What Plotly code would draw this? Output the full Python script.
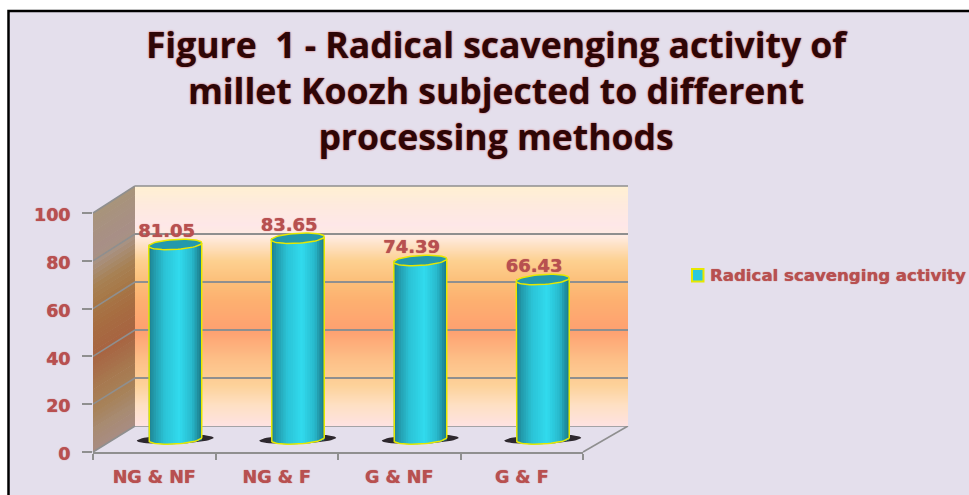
import numpy as np
import plotly.graph_objects as go

# ---- chart data ----
categories = ["NG & NF", "NG & F", "G & NF", "G & F"]
values = [81.05, 83.65, 74.39, 66.43]
series_name = "Radical scavenging activity"
y_ticks = [0, 20, 40, 60, 80, 100]
title_lines = ["Figure  1 - Radical scavenging activity of",
               "millet Koozh subjected to different",
               "processing methods"]

# ---- styles ----
W, H = 969, 495
BG = "#E4DFEC"
TXT = "#B85050"
GRID = "#8F8F8F"
YELLOW = "#E6E800"
FONT = "DejaVu Sans"
TITLE_FONT = "Open Sans"
wall_pos = [0.00, 0.087, 0.17, 0.275, 0.40, 0.525, 0.60, 0.69, 0.75, 0.79, 0.84, 0.92, 1.00]
wall_col = ["#FEE2E2", "#FEE0C4", "#FDD29A", "#FDC088", "#FEA070", "#FDB070", "#FCBE78",
            "#FDD090", "#FEE0C0", "#FFEBE0", "#FEE7E8", "#FEEADE", "#FFF0D2"]
cyl_pos = [0.0, 0.10, 0.30, 0.58, 0.82, 0.93, 1.0]
cyl_col = ["#1E7F8E", "#229AAB", "#2BC3D6", "#31DBEE", "#28B8CB", "#1F8F9F", "#1A7A88"]

def px(x): return x / W
def py(y): return 1 - y / H
def hex2rgb(c): return np.array([int(c[i:i + 2], 16) for i in (1, 3, 5)], float)
def ramp(t, pos, cols):
    arr = np.array([hex2rgb(c) for c in cols])
    return np.array([np.interp(t, pos, arr[:, k]) for k in range(3)])
def rgb(a): return "rgb(%d,%d,%d)" % tuple(int(round(v)) for v in a)

# geometry of the pseudo-3D box (pixels)
FX0, FX1, FY0, FY100 = 93, 583, 452, 213     # front plane
BX0, BX1, BY0, BY100 = 135, 628, 426, 186    # back wall
MX0, MX1, MY0, MY100 = 114, 604, 439, 199    # plane of the cylinders
MLOW = -12                                   # room below zero for the cylinder bases
def yf(v): return FY0 + (FY100 - FY0) * v / 100
def yb(v): return BY0 + (BY100 - BY0) * v / 100
def ym(v): return MY0 + (MY100 - MY0) * v / 100
def path(pts):
    return "M" + " L".join(f"{px(a):.5f},{py(b):.5f}" for a, b in pts) + " Z"
def edge(x0, y0, x1, y1, layer="below"):
    return dict(type="line", xref="paper", yref="paper", layer=layer,
                x0=px(x0), y0=py(y0), x1=px(x1), y1=py(y1),
                line=dict(color=GRID, width=1.5))

shapes = [dict(type="rect", xref="paper", yref="paper", layer="below",
               x0=px(8.5), x1=1.02, y0=py(11), y1=-0.02, fillcolor=BG,
               line=dict(color="#000000", width=2.5))]
# side wall bands
for v in np.arange(0, 100, 2.0):
    col = ramp((v + 1) / 100, wall_pos, wall_col) * np.array([0.66, 0.62, 0.58])
    top = min(v + 2.3, 100)
    shapes.append(dict(type="path", xref="paper", yref="paper", layer="below",
                       path=path([(FX0, yf(v)), (BX0, yb(v)), (BX0, yb(top)), (FX0, yf(top))]),
                       fillcolor=rgb(col), line=dict(width=0)))
# side-wall grid and box edges
for v in y_ticks:
    shapes.append(edge(FX0, yf(v), BX0, yb(v)))
shapes.append(edge(FX1, FY0, BX1, BY0))
shapes.append(edge(BX0, BY100, BX1, BY100, "above"))
shapes.append(edge(BX0, BY0, BX1, BY0))
shapes.append(dict(type="rect", xref="paper", yref="paper", layer="above",
                   x0=px(692), x1=px(703.5), y0=py(269), y1=py(281.5), fillcolor="#2BC9DD",
                   line=dict(color=YELLOW, width=2)))

fig = go.Figure()

# back wall gradient
levels = np.linspace(0, 100, 241)
fig.add_trace(go.Heatmap(x=[-2, 5], y=levels, z=[[l, l] for l in levels], zmin=0, zmax=100,
                         colorscale=[[p, c] for p, c in zip(wall_pos, wall_col)],
                         showscale=False, hoverinfo="skip", xaxis="x", yaxis="y"))
a = 26.5 / ((MX1 - MX0) / 4)           # half width in category units
b, k = 5 * 100 / 240, 1.6 * 100 / 240  # ellipse half height and tilt in value units
t = np.linspace(0, 2 * np.pi, 61)
fig.add_trace(go.Scatter(x=[0], y=[0], mode="none", showlegend=False, hoverinfo="skip",
                         xaxis="x2", yaxis="y2"))
for i, v in enumerate(values):        # floor shadows
    fig.add_trace(go.Scatter(x=i + a * 1.45 * np.cos(t), y=-0.1 + 1.9 * np.sin(t) + 0.6 * np.cos(t),
                             mode="lines", fill="toself", fillcolor="rgba(25,20,25,0.9)",
                             line=dict(width=0), showlegend=False, hoverinfo="skip",
                             xaxis="x3", yaxis="y3"))

# cylinders
n = 22
w = 2 * a / n
xs = list(range(len(values)))
for j in range(n):
    dx = -a + (j + 0.5) * w
    r = dx / a
    base = k * r - b * np.sqrt(max(1 - r * r, 0))
    wid = w * 2 if j < n - 1 else w
    fig.add_trace(go.Bar(x=xs, y=[v - base for v in values], base=base,
                         width=wid, offset=dx - w * 0.5,
                         marker=dict(color=rgb(ramp((j + 0.5) / n, cyl_pos, cyl_col)), line=dict(width=0)),
                         showlegend=False, hoverinfo="skip",
                         xaxis="x4", yaxis="y4"))
for i, v in enumerate(values):
    tb = np.linspace(0, np.pi, 31)
    # outline of body: left side, lower curve, right side
    fig.add_trace(go.Scatter(x=np.r_[i - a, i - a * np.cos(tb), i + a],
                             y=np.r_[v - k, -k * np.cos(tb) - b * np.sin(tb), v + k],
                             mode="lines", line=dict(color=YELLOW, width=1.5), showlegend=False,
                             hoverinfo="skip", xaxis="x4", yaxis="y4"))
    # top ellipse
    fig.add_trace(go.Scatter(x=i + a * np.cos(t), y=v + b * np.sin(t) + k * np.cos(t),
                             mode="lines", fill="toself", fillcolor="#2399AC",
                             line=dict(color=YELLOW, width=1.5), showlegend=False,
                             hoverinfo="skip", xaxis="x4", yaxis="y4"))
# data labels
fig.add_trace(go.Scatter(x=[i - 0.07 for i in xs], y=[v + 5.0 for v in values],
                         text=[f"{v:.2f}" for v in values], mode="text", textposition="middle center",
                         textfont=dict(family=FONT, size=18, color=TXT, weight="bold",
                                       shadow="0 0 1px #B85050"),
                         showlegend=False, hoverinfo="skip", cliponaxis=False,
                         xaxis="x4", yaxis="y4"))
# front-plane axes carrier
fig.add_trace(go.Scatter(x=categories, y=values, mode="markers", marker=dict(opacity=0),
                         showlegend=False, hoverinfo="skip", xaxis="x5", yaxis="y5"))

hidden = dict(visible=False, fixedrange=True, automargin=False)
tickfont = dict(family=FONT, size=17.5, color=TXT, weight="bold", shadow="0 0 1px #B85050")
mid_y = dict(domain=[py(ym(MLOW)), py(MY100)], range=[MLOW, 100], **hidden)
fig.update_layout(
    width=W, height=H, autosize=False,
    margin=dict(l=0, r=0, t=0, b=0, pad=0),
    paper_bgcolor="#FFFFFF", plot_bgcolor="rgba(0,0,0,0)",
    barmode="overlay", shapes=shapes, showlegend=False,
    title=dict(text="<br>".join(title_lines), x=496 / W, xanchor="center", xref="paper",
               y=py(58), yanchor="top", yref="paper", automargin=False,
               font=dict(family=TITLE_FONT, size=35.5, color="#2E0606", weight="bold",
                         shadow="0 0 2px #C04040")),
    annotations=[dict(text=series_name, xref="paper", yref="paper", x=px(709), y=py(275),
                      xanchor="left", yanchor="middle", showarrow=False, borderpad=0,
                      font=dict(family=FONT, size=16.6, color=TXT, weight="bold",
                                shadow="0 0 1px #B85050"))],
    xaxis=dict(domain=[px(BX0), px(BX1)], range=[-0.5, 3.5], anchor="y", **hidden),
    yaxis=dict(domain=[py(BY0), py(BY100)], range=[0, 100], anchor="x", **hidden),
    xaxis2=dict(domain=[px(BX0), px(BX1)], range=[-0.5, 3.5], anchor="y2", **hidden),
    yaxis2=dict(domain=[py(BY0), py(BY100)], range=[0, 100], anchor="x2", tickvals=y_ticks,
                showgrid=True, gridcolor=GRID, gridwidth=1.5, zeroline=False, showline=False,
                showticklabels=False, ticks="", fixedrange=True, automargin=False),
    xaxis3=dict(domain=[px(MX0), px(MX1)], range=[-0.5, 3.5], anchor="y3", **hidden),
    yaxis3=dict(anchor="x3", **mid_y),
    xaxis4=dict(domain=[px(MX0), px(MX1)], range=[-0.5, 3.5], anchor="y4", **hidden),
    yaxis4=dict(anchor="x4", **mid_y),
    xaxis5=dict(domain=[px(FX0), px(FX1)], type="category", categoryorder="array",
                categoryarray=categories, range=[-0.5, 3.5], anchor="y5", tickson="boundaries",
                ticks="outside", ticklen=6, tickwidth=1.5, tickcolor=GRID, showline=True,
                linecolor=GRID, linewidth=1.5, showgrid=False, zeroline=False, tickfont=tickfont,
                ticklabelstandoff=8, tickangle=0, fixedrange=True, automargin=False),
    yaxis5=dict(domain=[py(FY0), py(FY100)], range=[0, 100], anchor="x5", tickvals=y_ticks,
                ticks="outside", ticklen=10, tickwidth=1.5, tickcolor=GRID, showline=False,
                showgrid=False, zeroline=False, tickfont=tickfont, ticklabelstandoff=8,
                ticklabelshift=2, fixedrange=True, automargin=False),
)

fig.write_html("out.html", config=dict(displayModeBar=False),
               post_script="document.body.style.margin='0';document.body.style.overflow='hidden';")
